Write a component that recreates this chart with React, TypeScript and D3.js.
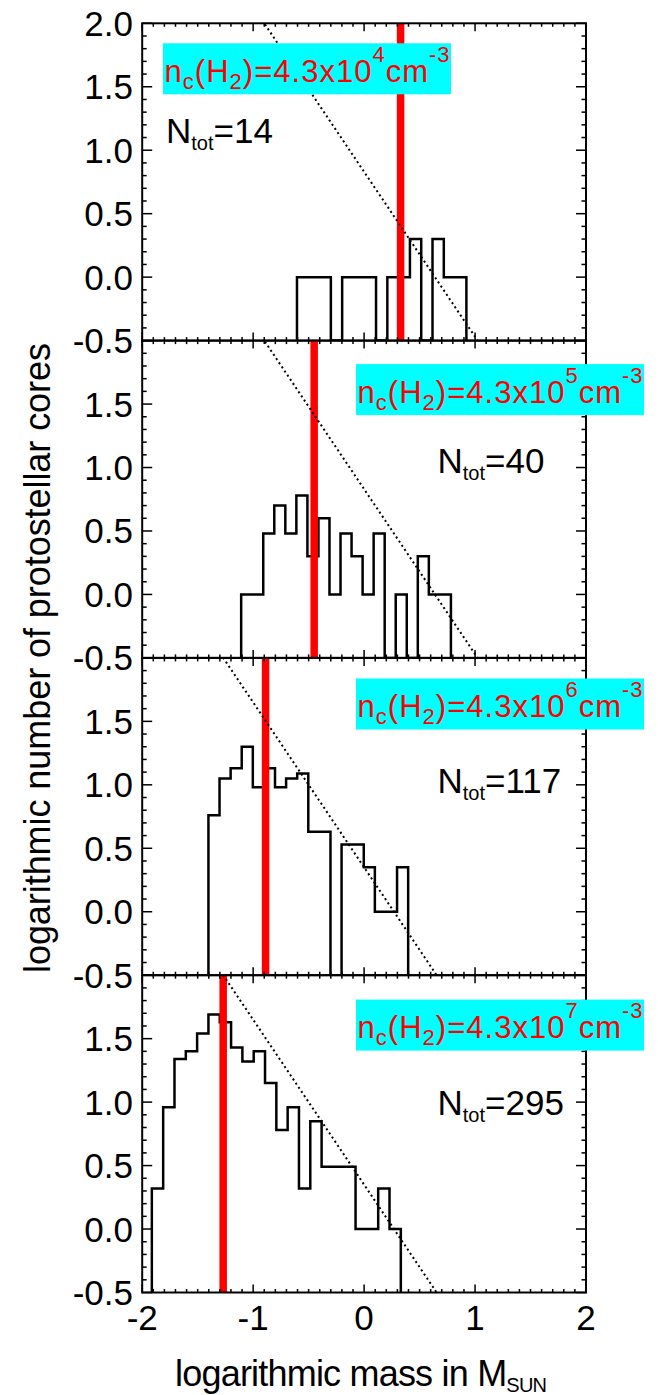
import * as d3 from "d3";

// log10 of number of cores per mass bin (null = empty bin)
const binStart = [-0.605, -1.108, -1.403, -1.913];
const binWidth = [0.1018, 0.0995, 0.1, 0.102];
const hist1 = [0, 0, 0, null, 0, 0, 0, null, 0, 0, 0.3, null, 0.3, 0, 0];
const hist2 = [0, 0, 0.48, 0.7, 0.48, 0.78, 0.3, 0.6, 0, 0.48, 0.3, 0, 0.48, null, 0, null, 0.3, 0, 0];
const hist3 = [0.76, 1.05, 1.13, 1.3, 0.98, 1.13, 0.98, 1.05, 1.09, 0.63, 0.63, null, 0.53, 0.53, 0.35, 0, 0, 0.35];
const hist4 = [0.32, 0.96, 1.34, 1.4, 1.54, 1.69, 1.63, 1.43, 1.32, 1.4, 1.15, 0.78, 0.96, 0.32, 0.85, 0.49, 0.49, 0.49, 0, 0, 0.32, 0];
const histograms = [hist1, hist2, hist3, hist4];

const densityExp = ["4", "5", "6", "7"];
const coreTotals = [14, 40, 117, 295];
const redLineMass = [0.329, -0.45, -0.888, -1.27];
const fitIntercept = [0.83, 0.83, 0.35, 0.35];
const fitSlope = [-1.3, -1.3, -1.3, -1.3];

const xTicks = [-2, -1, 0, 1, 2];
const yTicks = [-0.5, 0, 0.5, 1, 1.5, 2];

// label placement per panel (pixels)
const boxLeft = [163, 356, 356, 356];
const boxTop = [20, 23.5, 20.6, 24.4];
const nLabelX = [166, 437.5, 437.5, 437.5];
const nLabelTop = [119.7, 132.2, 135.3, 140];

const FONT = "'Liberation Sans', Arial, Helvetica, sans-serif";

export default function App() {
  const width = 658;
  const height = 1395;
  const left = 142.2;
  const right = 586;
  const top0 = 23.3;
  const panelH = 317.3;

  const x = d3.scaleLinear().domain([-2, 2]).range([left, right]);
  const minorX = d3.range(-20, 21).map(i => i / 10);
  const minorY = d3.range(-5, 21).map(i => i / 10);
  const line = d3.line();

  const panels = histograms.map((vals, p) => {
    const top = top0 + p * panelH;
    const bottom = top + panelH;
    const y = d3.scaleLinear().domain([-0.5, 2]).range([bottom, top]);
    const x0 = binStart[p];
    const w = binWidth[p];
    const pts: [number, number][] = [[x(x0), bottom]];
    vals.forEach((v, i) => {
      const yy = v === null ? bottom : y(v);
      pts.push([x(x0 + i * w), yy], [x(x0 + (i + 1) * w), yy]);
    });
    pts.push([x(x0 + vals.length * w), bottom]);
    const fit: [number, number][] = [-2, 2].map(m => [x(m), y(fitIntercept[p] + fitSlope[p] * m)]);
    const bt = top + boxTop[p];
    const ticks: JSX.Element[] = [];
    minorX.forEach((m, i) => {
      const major = Math.abs(m - Math.round(m)) < 1e-6;
      const len = major ? 8 : 3.5;
      ticks.push(<line key={"xb" + i} x1={x(m)} x2={x(m)} y1={bottom} y2={bottom - len} />);
      ticks.push(<line key={"xt" + i} x1={x(m)} x2={x(m)} y1={top} y2={top + len} />);
    });
    minorY.forEach((m, i) => {
      const major = Math.abs(m * 2 - Math.round(m * 2)) < 1e-6;
      const len = major ? 10 : 4.5;
      ticks.push(<line key={"yl" + i} x1={left} x2={left + len} y1={y(m)} y2={y(m)} />);
      ticks.push(<line key={"yr" + i} x1={right} x2={right - len} y1={y(m)} y2={y(m)} />);
    });
    return (
      <g key={p}>
        <clipPath id={"clip" + p}>
          <rect x={left} y={top} width={right - left} height={panelH} />
        </clipPath>
        <g clipPath={`url(#clip${p})`}>
          <path d={line(pts) || ""} fill="none" stroke="#000" strokeWidth={2.5} strokeLinejoin="miter" />
          <line x1={x(redLineMass[p])} x2={x(redLineMass[p])} y1={top} y2={bottom} stroke="#ff0000" strokeWidth={7.5} />
          <path d={line(fit) || ""} fill="none" stroke="#000" strokeWidth={2} strokeDasharray="2,3" />
        </g>
        <g stroke="#000" strokeWidth={1.5}>{ticks}</g>
        <rect x={left} y={top} width={right - left} height={panelH} fill="none" stroke="#000" strokeWidth={2} />
        {yTicks.filter(t => p === 0 || t < 2).map(t => (
          <text key={t} x={133} y={y(t) + 12.5} textAnchor="end" fontSize={35} fontFamily={FONT}>{t.toFixed(1)}</text>
        ))}
        <rect x={boxLeft[p]} y={bt} width={288} height={51} fill="#00ffff" />
        <text x={boxLeft[p] + 1.6} y={bt + 38.7} fontSize={31} fontFamily={FONT} fill="#ff0000" textLength={285} lengthAdjust="spacing">
          <tspan>n</tspan>
          <tspan dy={7} fontSize={22}>c</tspan>
          <tspan dy={-7}>(H</tspan>
          <tspan dy={7} fontSize={22}>2</tspan>
          <tspan dy={-7}>)=4.3x10</tspan>
          <tspan dy={-20} fontSize={22}>{densityExp[p]}</tspan>
          <tspan dy={20}>cm</tspan>
          <tspan dy={-20} fontSize={22}>-3</tspan>
        </text>
        <text x={nLabelX[p]} y={top + nLabelTop[p]} fontSize={35} fontFamily={FONT} fill="#000">
          <tspan>N</tspan>
          <tspan dy={7} fontSize={20}>tot</tspan>
          <tspan dy={-7}>={coreTotals[p]}</tspan>
        </text>
      </g>
    );
  });

  return (
    <svg width={width} height={height} style={{ position: "absolute", left: 0, top: 0, background: "#fff" }}>
      <rect x={0} y={0} width={width} height={height} fill="#fff" />
      {panels}
      {xTicks.map(t => (
        <text key={t} x={x(t)} y={1329.5} textAnchor="middle" fontSize={35} fontFamily={FONT}>{String(t)}</text>
      ))}
      <text x={175} y={1386} fontSize={36} fontFamily={FONT} textLength={372} lengthAdjust="spacing">
        <tspan>logarithmic mass in M</tspan>
        <tspan dy={6} fontSize={20}>SUN</tspan>
      </text>
      <text transform="translate(50,658) rotate(-90)" textAnchor="middle" fontSize={36} fontFamily={FONT} textLength={630} lengthAdjust="spacing">
        logarithmic number of protostellar cores
      </text>
    </svg>
  );
}
